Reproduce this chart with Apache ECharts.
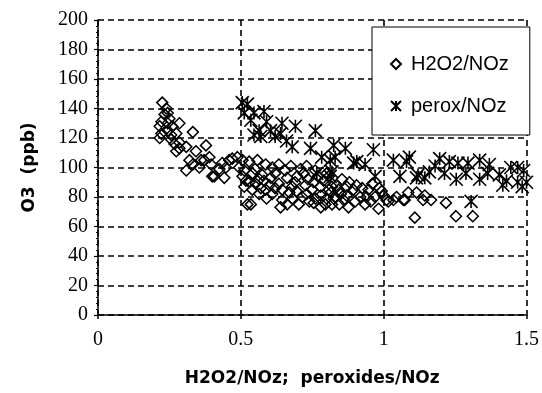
<!DOCTYPE html>
<html>
<head>
<meta charset="utf-8">
<script src="https://cdn.jsdelivr.net/npm/echarts@6/dist/echarts.min.js"></script>
<style>
  html, body { margin: 0; padding: 0; background: #fff; }
  #chart { width: 542px; height: 393px; }
</style>
</head>
<body>
<div id="chart"></div>
<script>
// Ozone vs. indicator ratios: [ratio, O3 ppb]
const h2o2Points = [
  [0.225,144],[0.239,140],[0.233,136],[0.244,137],[0.222,131],[0.216,128],[0.222,123],[0.216,120],
  [0.245,125],[0.256,122],[0.285,130],[0.332,124],[0.268,116],[0.285,113],[0.274,111],[0.309,114],
  [0.343,111],[0.378,115],[0.32,105],[0.309,98],[0.332,102],[0.361,105],[0.355,100],[0.39,107],
  [0.396,102],[0.407,94],[0.442,93],[0.425,99],[0.459,105],[0.488,107],[0.494,100],[0.506,94],
  [0.512,87],[0.523,75],[0.244,130],[0.256,119],[0.274,123],[0.372,105],[0.435,103],[0.448,100],
  [0.4,94],[0.47,106],[0.25,133],[0.26,128],[0.285,117],
  [0.506,105],[0.529,104],[0.558,105],[0.587,102],[0.61,100],[0.633,102],[0.697,94],[0.709,99],
  [0.512,98],[0.541,96],[0.518,91],[0.552,89],[0.581,91],[0.605,93],[0.633,89],[0.662,93],
  [0.68,87],[0.726,88],[0.587,85],[0.564,82],[0.61,82],[0.645,85],[0.749,85],[0.779,87],
  [0.808,85],[0.715,80],[0.761,79],[0.825,79],[0.796,75],[0.535,75],[0.639,73],[0.662,75],[0.703,75],
  [0.55,99],[0.575,95],[0.62,96],[0.655,98],[0.675,101],[0.69,90],[0.72,96],[0.735,92],
  [0.755,90],[0.77,94],[0.79,91],[0.6,88],[0.62,86],[0.67,83],[0.695,84],[0.73,82],
  [0.755,76],[0.78,81],[0.8,79],[0.815,83],[0.835,88],[0.68,79],[0.645,78],[0.59,79],
  [0.57,86],[0.54,85],[0.53,90],[0.565,92],[0.73,101],[0.76,98],[0.8,96],[0.74,77],[0.78,73],[0.85,82],
  [0.819,87],[0.842,85],[0.871,87],[0.894,85],[0.83,80],[0.86,78],[0.918,80],[0.947,85],
  [0.97,80],[0.993,84],[1.01,78],[1.045,80],[1.074,78],[1.115,83],[1.138,78],[0.819,75],
  [0.877,73],[0.935,75],[0.982,72],[1.109,66],[0.808,94],[0.854,92],
  [0.88,90],[0.905,88],[0.925,86],[0.96,89],[0.9,77],[0.955,77],[0.985,86],[0.845,75],
  [0.87,81],[0.94,80],[1.0,81],[1.016,77],[1.034,78],[1.069,78],[1.086,83],[1.166,78],
  [1.218,76],[1.253,67],[1.312,67],[1.144,81]
];

const peroxPoints = [
  [0.505,144],[0.523,143],[0.512,137],[0.546,137],[0.581,138],[0.535,132],[0.564,125],[0.57,121],
  [0.546,122],[0.604,125],[0.644,130],[0.639,123],[0.691,128],[0.761,125],[0.68,114],[0.744,113],
  [0.783,107],[0.813,105],[0.825,115],[0.866,113],[0.964,112],[0.83,107],[0.906,104],[0.895,103],
  [0.935,102],[1.034,105],[1.08,104],[1.057,94],[0.97,94],[1.115,93],[0.819,97],[0.766,96],
  [0.813,94],[1.12,95],[1.144,93],[1.16,97],[1.196,106],[1.23,104],[1.26,103],[1.295,103],
  [1.336,105],[1.37,102],[1.445,100],[1.469,100],[1.49,98],[1.213,96],[1.254,92],[1.288,96],
  [1.336,92],[1.364,96],[1.405,95],[1.417,88],[1.469,90],[1.5,90],[1.306,77],[0.62,121],
  [0.66,118],[0.59,131],[1.09,107],[1.43,91],[1.485,87],[1.18,101]
];

const xTicks = [0, 0.5, 1, 1.5];
const yTicks = [0, 20, 40, 60, 80, 100, 120, 140, 160, 180, 200];

const seriesNames = ['H2O2/NOz', 'perox/NOz'];
const xTitle = 'H2O2/NOz;  peroxides/NOz';
const yTitle = 'O3  (ppb)';

// six-armed asterisk: an X crossed by a vertical stroke
const starPath = 'path://M0,0L10,10M10,0L0,10M5,0L5,10';

const chart = echarts.init(document.getElementById('chart'), null, { renderer: 'canvas' });

const dashed = { color: '#000', width: 1.6, type: [6, 4] };
const tickFont = { fontFamily: 'Liberation Serif', fontSize: 20, color: '#000' };
const titleFont = { fontFamily: 'DejaVu Sans', fontWeight: 'bold', fontSize: 17, color: '#000' };

chart.setOption({
  animation: false,
  backgroundColor: '#fff',
  grid: { left: 98, right: 13, top: 20, bottom: 78 },
  xAxis: {
    type: 'value',
    min: xTicks[0], max: xTicks[xTicks.length - 1], interval: 0.5,
    name: xTitle, nameLocation: 'middle', nameGap: 55, nameTextStyle: titleFont,
    axisLine: { show: true, lineStyle: { color: '#000', width: 1.5 } },
    axisTick: { show: true, length: 4, lineStyle: { color: '#000', width: 1.5 } },
    axisLabel: Object.assign({ margin: 15 }, tickFont),
    splitLine: { show: true, lineStyle: dashed }
  },
  yAxis: {
    type: 'value',
    min: yTicks[0], max: yTicks[yTicks.length - 1], interval: 20,
    name: yTitle, nameLocation: 'middle', nameGap: 60, nameRotate: 90, nameTextStyle: titleFont,
    axisLine: { show: true, lineStyle: { color: '#000', width: 1.5 } },
    axisTick: { show: true, length: 4, lineStyle: { color: '#000', width: 1.2 } },
    minorTick: { show: true, splitNumber: 5, length: 2, lineStyle: { color: '#000', width: 1 } },
    axisLabel: Object.assign({ margin: 10 }, tickFont),
    splitLine: { show: true, lineStyle: dashed }
  },
  legend: {
    orient: 'vertical', left: 372, top: 27,
    padding: [27, 21, 19, 18], itemGap: 22, itemWidth: 10, itemHeight: 10,
    borderColor: '#000', borderWidth: 1, backgroundColor: '#fff',
    textStyle: { fontFamily: 'Liberation Sans', fontSize: 20, color: '#000', padding: [0, 0, 0, 5] },
    data: [
      { name: seriesNames[0], icon: 'diamond' },
      { name: seriesNames[1], icon: starPath }
    ]
  },
  series: [
    {
      name: seriesNames[0], type: 'scatter', symbol: 'diamond', symbolSize: 11,
      itemStyle: { color: 'transparent', borderColor: '#000', borderWidth: 1.5, opacity: 1 },
      emphasis: { disabled: true },
      data: h2o2Points
    },
    {
      name: seriesNames[1], type: 'scatter', symbol: starPath, symbolSize: 13,
      itemStyle: { color: 'transparent', borderColor: '#000', borderWidth: 1.6, opacity: 1 },
      emphasis: { disabled: true },
      data: peroxPoints
    }
  ]
});
</script>
</body>
</html>
